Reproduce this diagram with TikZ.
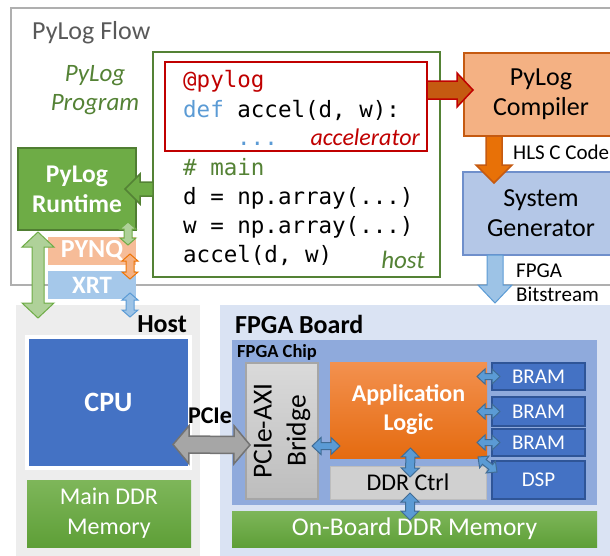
\documentclass[tikz,border=0pt]{standalone}
\usepackage{fontspec}
\setmainfont{Carlito}
\newfontfamily\codefont{DejaVu Sans Mono}
\usetikzlibrary{positioning, calc}

\definecolor{pygreen}{HTML}{548235}
\definecolor{pyred}{HTML}{C00000}
\definecolor{pyblue}{HTML}{5B9BD5}
\definecolor{titlegray}{HTML}{595959}
\definecolor{flowgray}{HTML}{AFAFAF}
\definecolor{cmpfill}{HTML}{F4B183}
\definecolor{cmpborder}{HTML}{C55A11}
\definecolor{sgfill}{HTML}{B4C7E7}
\definecolor{sgborder}{HTML}{6F8FCB}
\definecolor{rtfill}{HTML}{6EAC46}
\definecolor{rtborder}{HTML}{507E32}
\definecolor{pynqfill}{HTML}{F6BC98}
\definecolor{xrtfill}{HTML}{A5C8EA}
\definecolor{hostgray}{HTML}{EDEDED}
\definecolor{cpublue}{HTML}{4472C4}
\definecolor{ddrtop}{HTML}{7EB65A}
\definecolor{ddrbottom}{HTML}{5E9F37}
\definecolor{boardblue}{HTML}{DAE3F3}
\definecolor{chipblue}{HTML}{8FAADC}
\definecolor{bridgetop}{HTML}{DADADA}
\definecolor{bridgebottom}{HTML}{BDBDBD}
\definecolor{bridgeborder}{HTML}{A6A6A6}
\definecolor{logictop}{HTML}{F3914F}
\definecolor{logicbottom}{HTML}{E56B10}
\definecolor{ddrgray}{HTML}{D0D0D0}
\definecolor{brborder}{HTML}{2F5597}

% fat arrows between two points: [style]{from}{to}{half shaft}{half head}{head length}
\newcommand{\fatarrow}[6][]{%
  \draw[#1] ($(#2)!#4pt!90:(#3)$)
    -- ($($(#3)!#6pt!(#2)$)!#4pt!90:(#3)$)
    -- ($($(#3)!#6pt!(#2)$)!#5pt!90:(#3)$)
    -- (#3)
    -- ($($(#3)!#6pt!(#2)$)!#5pt!270:(#3)$)
    -- ($($(#3)!#6pt!(#2)$)!#4pt!270:(#3)$)
    -- ($(#2)!#4pt!270:(#3)$) -- cycle;}
\newcommand{\dblarrow}[6][]{%
  \draw[#1] (#2)
    -- ($($(#2)!#6pt!(#3)$)!#5pt!90:(#3)$)
    -- ($($(#2)!#6pt!(#3)$)!#4pt!90:(#3)$)
    -- ($($(#3)!#6pt!(#2)$)!#4pt!90:(#3)$)
    -- ($($(#3)!#6pt!(#2)$)!#5pt!90:(#3)$)
    -- (#3)
    -- ($($(#3)!#6pt!(#2)$)!#5pt!270:(#3)$)
    -- ($($(#3)!#6pt!(#2)$)!#4pt!270:(#3)$)
    -- ($($(#2)!#6pt!(#3)$)!#4pt!270:(#3)$)
    -- ($($(#2)!#6pt!(#3)$)!#5pt!270:(#3)$)
    -- cycle;}

\tikzset{
  panel/.style={anchor=north west, inner sep=0pt, outer sep=0pt, align=center},
  codeline/.style={anchor=base west, inner sep=0pt, font=\codefont\fontsize{22.5}{26}\selectfont},
  txt/.style={inner sep=0pt},
  arrowred/.style={fill=cmpborder, draw=pyred, line width=1.5pt},
  arrowgreen/.style={fill=rtfill, draw=pygreen, line width=1.5pt},
  arroworange/.style={fill=orange!60!cmpborder, draw=cmpborder, line width=1.5pt},
  arrowblue/.style={fill=pyblue!60!white, draw=pyblue, line width=1pt},
  arrowlgreen/.style={fill=rtfill!55!white, draw=rtfill, line width=1pt},
  arrowlorange/.style={fill=cmpfill, draw=orange!70!cmpborder, line width=1pt},
  arrowlblue/.style={fill=pyblue!60!white, draw=pyblue, line width=1pt},
  arrowgray/.style={fill=bridgeborder, draw=gray!90!black, line width=1.5pt},
  arrowsblue/.style={fill=pyblue, draw=pyblue!70!black, line width=1pt},
}

\begin{document}
\begin{tikzpicture}[x=1pt, y=-1pt]
\useasboundingbox (0,0) rectangle (610,555);
\clip (0,0) rectangle (610,555);

% --- PyLog flow ---
\node[panel, draw=flowgray, line width=1.5pt, minimum width=620pt, minimum height=277pt] (flow) at (11,8) {};
\node[txt, anchor=base west, text=titlegray, font=\fontsize{26}{30}\selectfont] (flowtitle) at (32,39) {PyLog Flow};
\node[txt, text=pygreen, align=center, font=\itshape\fontsize{25}{29}\selectfont] (progname) at (95,90) {PyLog\\Program};

\node[panel, draw=pygreen, fill=white, line width=2pt, minimum width=287pt, minimum height=225pt] (prog) at (153,52) {};
\node[panel, draw=pyred, line width=2pt, minimum width=262pt, minimum height=89pt] (acc) at (165,62) {};

\node[codeline, text=pyred] (c1) at (183,87) {@pylog};
\node[codeline] (c2) at (183,117) {\textcolor{pyblue}{def} accel(d, w):};
\node[codeline, text=pyblue] (c3) at (237,145) {...};
\node[txt, anchor=base east, text=pyred, font=\itshape\fontsize{24}{28}\selectfont] (acclabel) at (420,145) {accelerator};
\node[codeline, text=pygreen] (c4) at (183,175) {\# main};
\node[codeline] (c5) at (183,204) {d = np.array(...)};
\node[codeline] (c6) at (183,233) {w = np.array(...)};
\node[codeline] (c7) at (183,262) {accel(d, w)};
\node[txt, anchor=base east, text=pygreen, font=\itshape\fontsize{25}{29}\selectfont] (hostlabel) at (425,268) {host};

\node[panel, draw=cmpborder, fill=cmpfill, line width=2pt, minimum width=154pt, minimum height=83pt, font=\fontsize{26}{30}\selectfont] (cmp) at (464,53) {PyLog\\Compiler};
\node[panel, draw=sgborder, fill=sgfill, line width=2pt, minimum width=156pt, minimum height=83pt, font=\fontsize{26}{30}\selectfont] (sg) at (463,172) {System\\Generator};
\node[txt, anchor=base west, font=\fontsize{21}{24}\selectfont] (hls) at (513,159) {HLS C Code};
\node[txt, anchor=base west, font=\fontsize{21}{24}\selectfont] (bitlabel) at (516,277) {FPGA};
\node[txt, anchor=base west, font=\fontsize{21}{24}\selectfont] (bitlabel2) at (516,301) {Bitstream};

\node[panel, draw=rtborder, fill=rtfill, line width=2pt, minimum width=118pt, minimum height=82pt, text=white, font=\bfseries\fontsize{25.5}{30}\selectfont] (rt) at (18,148) {PyLog\\Runtime};
\node[panel, fill=pynqfill, minimum width=88pt, minimum height=28pt, text=white, font=\bfseries\fontsize{26}{30}\selectfont] (pynq) at (48,237) {PYNQ};
\node[panel, fill=xrtfill, minimum width=88pt, minimum height=28pt, text=white, font=\bfseries\fontsize{25}{30}\selectfont] (xrt) at (48,271) {XRT};

% --- Host ---
\node[panel, fill=hostgray, minimum width=184pt, minimum height=260pt] (host) at (16,305) {};
\node[txt, anchor=base east, font=\bfseries\fontsize{26}{30}\selectfont] (hosttitle) at (187,332) {Host};
\node[panel, fill=cpublue, draw=white, line width=4pt, minimum width=163pt, minimum height=131pt, text=white, font=\bfseries\fontsize{28}{32}\selectfont] (cpu) at (27,337) {CPU};
\node[panel, top color=ddrtop, bottom color=ddrbottom, minimum width=164pt, minimum height=67pt, text=white, font=\fontsize{24}{30}\selectfont] (mainddr) at (27,480) {Main DDR\\Memory};

% --- FPGA board ---
\node[panel, fill=boardblue, minimum width=400pt, minimum height=260pt] (board) at (220,305) {};
\node[txt, anchor=base west, font=\bfseries\fontsize{26}{30}\selectfont] (boardtitle) at (235,333) {FPGA Board};
\node[panel, fill=chipblue, minimum width=365pt, minimum height=165pt] (chip) at (232,340) {};
\node[txt, anchor=base west, font=\bfseries\fontsize{18.5}{22}\selectfont] (chiptitle) at (237,357) {FPGA Chip};
\node[panel, top color=bridgetop, bottom color=bridgebottom, draw=bridgeborder, line width=1.5pt, minimum width=72pt, minimum height=136pt] (bridge) at (246,363) {};
\node[txt, rotate=90, align=center, font=\fontsize{27.5}{34}\selectfont] (bridgetext) at (bridge.center) {PCIe-AXI\\Bridge};
\node[panel, top color=logictop, bottom color=logicbottom, minimum width=157pt, minimum height=96pt, text=white, font=\bfseries\fontsize{24}{29}\selectfont] (logic) at (330,362) {Application\\Logic};
\node[panel, fill=ddrgray, draw=bridgebottom, line width=1pt, minimum width=156pt, minimum height=33pt, font=\fontsize{24}{28}\selectfont] (ddrc) at (330,466) {DDR Ctrl};
\node[panel, fill=cpublue, draw=brborder, line width=2pt, minimum width=93pt, minimum height=27pt, text=white, font=\fontsize{21}{24}\selectfont] (bram1) at (492,363) {BRAM};
\node[panel, fill=cpublue, draw=brborder, line width=2pt, minimum width=93pt, minimum height=29pt, text=white, font=\fontsize{21}{24}\selectfont] (bram2) at (492,397) {BRAM};
\node[panel, fill=cpublue, draw=brborder, line width=2pt, minimum width=93pt, minimum height=27pt, text=white, font=\fontsize{21}{24}\selectfont] (bram3) at (492,429) {BRAM};
\node[panel, fill=cpublue, draw=brborder, line width=2pt, minimum width=93pt, minimum height=38pt, text=white, font=\fontsize{21}{24}\selectfont] (dsp) at (492,461) {DSP};
\node[panel, top color=ddrtop, bottom color=ddrbottom, minimum width=365pt, minimum height=36pt, text=white, font=\fontsize{25.5}{28}\selectfont] (obddr) at (232,511) {On-Board DDR Memory};

% --- arrows ---
\fatarrow[arrowgreen]{prog.west |- rt.east}{$(rt.east)+(-11,0)$}{7}{15}{15}
\fatarrow[arrowred]{$(acc.north east)+(0,28)$}{$(cmp.north west)+(9,37)$}{9}{17}{16}
\fatarrow[arroworange]{$(cmp.south west)+(30,0)$}{$(sg.north west)+(31,11)$}{8}{18}{18}
\fatarrow[arrowblue]{$(sg.south west)+(32,0)$}{$(board.north west)+(275,-2)$}{8}{17}{18}

\dblarrow[arrowlgreen]{$(rt.south west)+(20,2)$}{$(host.north west)+(22,13)$}{6}{16}{15}
\dblarrow[arrowlgreen]{$(rt.south east)+(-8,-8)$}{$(pynq.north east)+(-8,8)$}{4}{8}{7}
\dblarrow[arrowlorange]{$(pynq.east)+(-6,3)$}{$(xrt.east)+(-6,-6)$}{4}{8}{7}
\dblarrow[arrowlblue]{$(xrt.south east)+(-6,-6)$}{$(host.north east)+(-70,12)$}{4}{8}{7}

\dblarrow[arrowgray]{$(cpu.east)+(-17,42)$}{$(bridge.west)+(4,14)$}{8.5}{19}{16}
\node[txt, anchor=base, font=\bfseries\fontsize{24}{28}\selectfont] (pcie) at (210,423) {PCIe};

\dblarrow[arrowsblue]{$(bridge.east)+(-6,15)$}{$(logic.west)+(10,36)$}{3.5}{8.5}{9}
\foreach \b in {bram1,bram2,bram3}
  \dblarrow[arrowsblue]{$(logic.east |- \b.west)+(-10,0)$}{$(\b.west)+(8,0)$}{3}{7.5}{8};
\dblarrow[arrowsblue]{$(logic.south east)+(-9,-1)$}{$(dsp.north west)+(5,11)$}{3}{7.5}{8}
\dblarrow[arrowsblue]{$(logic.south)+(2,-10)$}{$(ddrc.north)+(2,11)$}{4.5}{9}{9}
\dblarrow[arrowsblue]{$(ddrc.south)+(2,-6)$}{$(ddrc.south |- obddr.north)+(2,9)$}{4.5}{9}{9}
\end{tikzpicture}
\end{document}
